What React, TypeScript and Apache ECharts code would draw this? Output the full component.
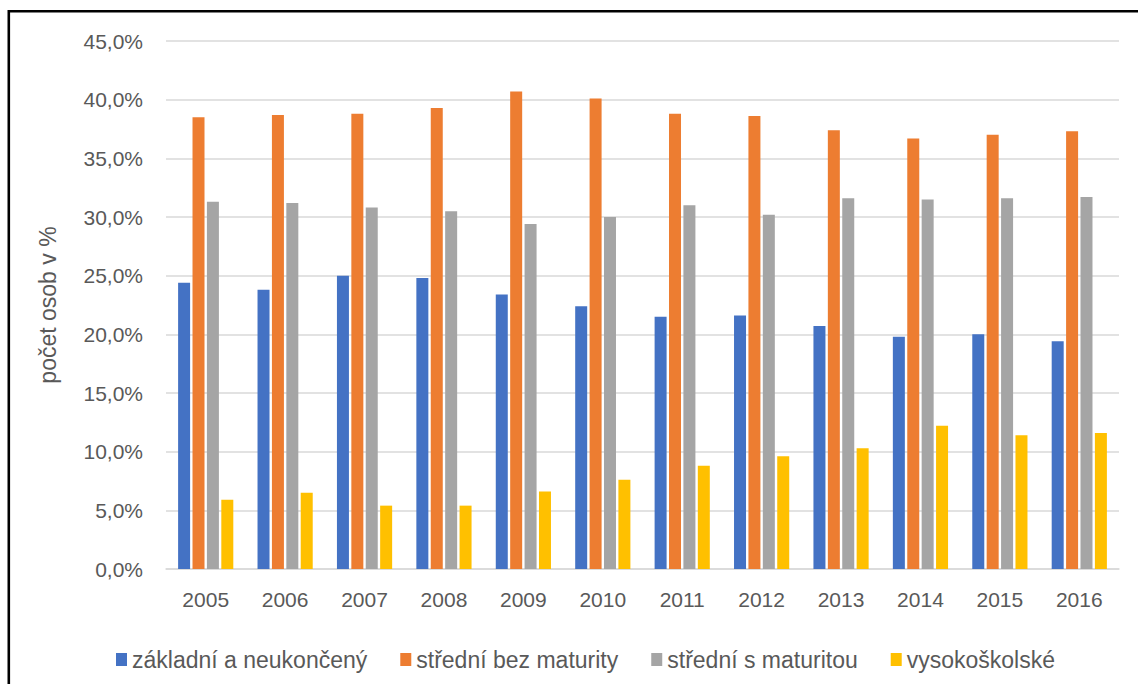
import React, { useEffect, useRef } from "react";
import * as echarts from "echarts";

// Years on the category axis
const years = ["2005", "2006", "2007", "2008", "2009", "2010", "2011", "2012", "2013", "2014", "2015", "2016"];

// Share of persons (%) by highest attained education
const zakladni = [24.4, 23.8, 25.0, 24.8, 23.4, 22.4, 21.5, 21.6, 20.7, 19.8, 20.0, 19.4];
const stredniBezMaturity = [38.5, 38.7, 38.8, 39.3, 40.7, 40.1, 38.8, 38.6, 37.4, 36.7, 37.0, 37.3];
const stredniSMaturitou = [31.3, 31.2, 30.8, 30.5, 29.4, 30.0, 31.0, 30.2, 31.6, 31.5, 31.6, 31.7];
const vysokoskolske = [5.9, 6.5, 5.4, 5.4, 6.6, 7.6, 8.8, 9.6, 10.3, 12.2, 11.4, 11.6];

const seriesNames = ["základní a neukončený", "střední bez maturity", "střední s maturitou", "vysokoškolské"];
const seriesColors = ["#4472C4", "#ED7D31", "#A5A5A5", "#FFC000"];
const seriesData = [zakladni, stredniBezMaturity, stredniSMaturitou, vysokoskolske];

const FONT = "'Liberation Sans', Arial, sans-serif";
const TEXT_COLOR = "#595959";

export default function App() {
  const ref = useRef<HTMLDivElement>(null);

  useEffect(() => {
    if (!ref.current) return;
    const chart = echarts.init(ref.current, undefined, { renderer: "svg" });
    chart.setOption({
      animation: false,
      backgroundColor: "#ffffff",
      textStyle: { fontFamily: FONT },
      grid: { left: 166, right: 19, top: 41, bottom: 115 },
      graphic: [
        {
          type: "rect",
          shape: { x: 8.8, y: 11.3, width: 1300, height: 900 },
          style: { fill: "none", stroke: "#000000", lineWidth: 2.6 },
          silent: true,
        },
      ],
      legend: {
        left: 111,
        top: 643,
        itemWidth: 11,
        itemHeight: 13,
        itemGap: 33,
        icon: "rect",
        textStyle: { fontSize: 23, color: TEXT_COLOR, fontFamily: FONT },
        data: seriesNames,
      },
      xAxis: {
        type: "category",
        data: years,
        axisTick: { show: false },
        axisLine: { lineStyle: { color: "#d9d9d9", width: 1.5 } },
        axisLabel: { fontSize: 21, color: TEXT_COLOR, margin: 20, fontFamily: FONT },
      },
      yAxis: {
        type: "value",
        min: 0,
        max: 45,
        interval: 5,
        name: "počet osob v %",
        nameLocation: "middle",
        nameRotate: 90,
        nameGap: 107,
        nameTextStyle: { fontSize: 23, color: TEXT_COLOR, fontFamily: FONT },
        axisLine: { show: false },
        axisTick: { show: false },
        splitLine: { lineStyle: { color: "#d9d9d9", width: 1.5 } },
        axisLabel: {
          fontSize: 21,
          color: TEXT_COLOR,
          margin: 23,
          fontFamily: FONT,
          formatter: (v: number) => v.toFixed(1).replace(".", ",") + "%",
        },
      },
      series: seriesNames.map((name, i) => ({
        name,
        type: "bar",
        data: seriesData[i],
        barWidth: 12,
        barGap: "20%",
        itemStyle: { color: seriesColors[i] },
      })),
    });
    return () => chart.dispose();
  }, []);

  return (
    <div
      ref={ref}
      style={{ position: "fixed", left: 0, top: 0, width: 1138, height: 684, background: "#fff" }}
    />
  );
}
